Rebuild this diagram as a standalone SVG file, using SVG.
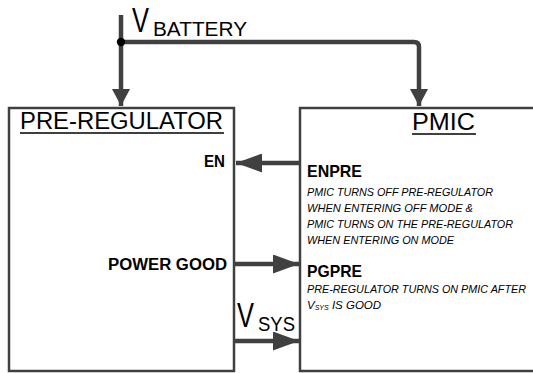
<svg xmlns="http://www.w3.org/2000/svg" width="533" height="373" viewBox="0 0 533 373">
<style>
.box{fill:#fff;stroke:#404040;stroke-width:2.5}
.wire{fill:none;stroke:#404040;stroke-width:4.5}
.t{font-family:"Liberation Sans",Arial,sans-serif;fill:#000}
.title{font-size:23px}
.b{font-weight:bold;font-size:15px}
.i{font-style:italic;font-size:11.5px}
.ul{stroke:#000;stroke-width:1.5}
</style>
<defs>
<marker id="ah" markerUnits="userSpaceOnUse" markerWidth="26" markerHeight="19" refX="26" refY="9.5" orient="auto">
<path d="M0,0 L26,9.5 L0,19 z" fill="#404040"/>
</marker>
<marker id="av" markerUnits="userSpaceOnUse" markerWidth="17" markerHeight="18" refX="17" refY="9" orient="auto">
<path d="M0,0 L17,9 L0,18 z" fill="#404040"/>
</marker>
</defs>
<g id="pre-regulator">
<rect class="box" x="9" y="108" width="225" height="263"/>
<text class="t title" x="20" y="129" textLength="203" lengthAdjust="spacingAndGlyphs">PRE-REGULATOR</text>
<line class="ul" x1="20" y1="133" x2="224" y2="133"/>
<text class="t b" x="225" y="167" text-anchor="end" textLength="21" lengthAdjust="spacingAndGlyphs" style="font-size:16px">EN</text>
<text class="t b" x="227" y="270" text-anchor="end" textLength="119" lengthAdjust="spacingAndGlyphs" style="font-size:16px">POWER GOOD</text>
</g>
<g id="pmic">
<rect class="box" x="300" y="108" width="260" height="263"/>
<text class="t title" x="412" y="130" textLength="63" lengthAdjust="spacingAndGlyphs">PMIC</text>
<line class="ul" x1="412" y1="134" x2="476" y2="134"/>
<text class="t b" x="307" y="177" textLength="55" lengthAdjust="spacingAndGlyphs" style="font-size:17px">ENPRE</text>
<text class="t i" x="307" y="196" textLength="186" lengthAdjust="spacingAndGlyphs">PMIC TURNS OFF PRE-REGULATOR</text>
<text class="t i" x="307" y="212" textLength="166" lengthAdjust="spacingAndGlyphs">WHEN ENTERING OFF MODE &amp;</text>
<text class="t i" x="307" y="228" textLength="206" lengthAdjust="spacingAndGlyphs">PMIC TURNS ON THE PRE-REGULATOR</text>
<text class="t i" x="307" y="243.5" textLength="147" lengthAdjust="spacingAndGlyphs">WHEN ENTERING ON MODE</text>
<text class="t b" x="307" y="277" textLength="55" lengthAdjust="spacingAndGlyphs" style="font-size:17px">PGPRE</text>
<text class="t i" x="307" y="293" textLength="219" lengthAdjust="spacingAndGlyphs" style="font-size:10.2px">PRE-REGULATOR TURNS ON PMIC AFTER</text>
<text class="t i" x="307" y="308.5">V<tspan font-size="7" dy="1.5">SYS</tspan><tspan dy="-1.5"> IS GOOD</tspan></text>
</g>
<g id="connectors">
<path class="wire" d="M121,15 L121,106" marker-end="url(#av)"/>
<path class="wire" d="M121,42 L414,42 Q419,42 419,47 L419,106" marker-end="url(#av)"/>
<circle cx="121" cy="42" r="4.2" fill="#000"/>
<path class="wire" d="M300,163 L236,163" marker-end="url(#ah)"/>
<path class="wire" d="M234,264 L299,264" marker-end="url(#ah)"/>
<path class="wire" d="M234,341 L299,341" marker-end="url(#ah)"/>
</g>
<g id="labels">
<text class="t" x="132" y="32" style="font-size:35px" textLength="17" lengthAdjust="spacingAndGlyphs">V</text>
<text class="t" x="153" y="36" style="font-size:20px" textLength="94" lengthAdjust="spacingAndGlyphs">BATTERY</text>
<text class="t" x="237" y="327" style="font-size:35px" textLength="17" lengthAdjust="spacingAndGlyphs">V</text>
<text class="t" x="258" y="331" style="font-size:21px" textLength="37" lengthAdjust="spacingAndGlyphs">SYS</text>
</g>
</svg>
